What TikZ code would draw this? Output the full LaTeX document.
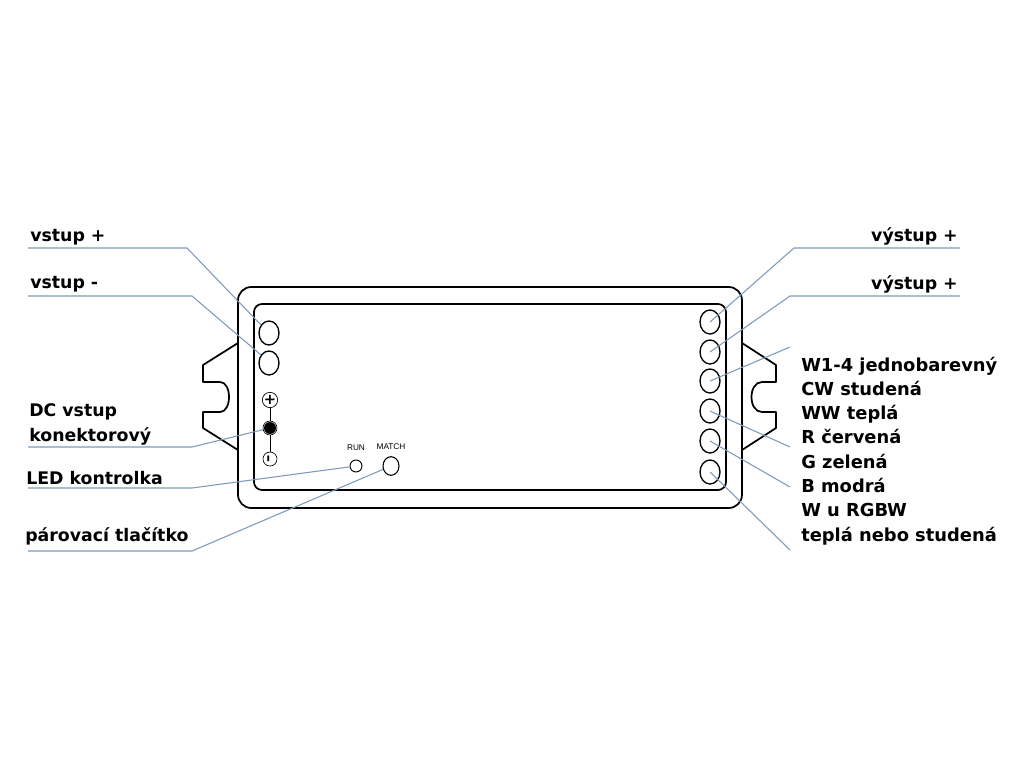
\documentclass[tikz,border=0pt]{standalone}
\usepackage{fontspec}
\setmainfont{DejaVu Sans}
\newfontfamily\tagfont{Liberation Sans}
\usetikzlibrary{positioning}
\usetikzlibrary{shapes.geometric}
\definecolor{leadercol}{HTML}{7F9BBB}
\begin{document}
\begin{tikzpicture}[
		x=0.75pt, y=-0.75pt,
		body/.style={draw, line width=1.3pt, inner sep=0},
		clip/.style={draw, line width=1.3pt, line join=round},
		port/.style={ellipse, draw, line width=1pt, inner sep=0, minimum width=15pt, minimum height=18pt},
		jack/.style={circle, draw, line width=0.5pt, inner sep=0, minimum size=10.5pt, font=\bfseries\fontsize{11}{11}\selectfont},
		leader/.style={draw=leadercol, line width=0.8pt},
		label/.style={inner sep=0, anchor=base west, align=left, font=\bfseries\fontsize{13}{18.2}\selectfont},
		tag/.style={inner sep=0, font=\tagfont\fontsize{6.2}{7}\selectfont},
	]
	\useasboundingbox (0,0) rectangle (1024,768);
	\fill[white] (0,0) rectangle (1024,768);

	\node (outer) [body, rounded corners=10pt, minimum width=378pt, minimum height=165.75pt] at (490,397.5) {};
	\node (inner) [body, rounded corners=6pt, minimum width=354pt, minimum height=139.5pt] at (490,397) {};

	\draw[clip] (238,343) -- (203,365) -- (203,382) -- (220,382) .. controls (232,382) and (232,412) .. (220,412) -- (203,412) -- (203,428) -- (238,450);
	\draw[clip] (742,343) -- (776,365) -- (776,382) -- (762,382) .. controls (748,382) and (748,412) .. (762,412) -- (776,412) -- (776,428) -- (742,450);

	\node (inA) [port] at (269,333) {};
	\node (inB) [port] at (269,363) {};
	\node (outA) [port] at (710,322) {};
	\node (outB) [port] at (710,352) {};
	\node (outC) [port] at (710,381) {};
	\node (outD) [port] at (710,411) {};
	\node (outE) [port] at (710,441) {};
	\node (outF) [port] at (710,472) {};

	\node (plus) [jack] at (270,400) {+};
	\node (dc) [jack] at (270,428) {};
	\fill (dc) circle (6);
	\node (minus) [jack, rotate=90] at (270,459) {--};
	\draw[line width=0.5pt] (plus) -- (dc);
	\draw[line width=0.5pt] (dc) -- (minus);

	\node (run) [circle, draw, line width=0.7pt, inner sep=0, minimum size=9pt] at (356,466) {};
	\node (match) [ellipse, draw, line width=0.8pt, inner sep=0, minimum width=12pt, minimum height=14pt] at (391,466) {};
	\node (runtag) [tag, above=6.5pt of run] {RUN};
	\node (matchtag) [tag, above=5pt of match] {MATCH};

	\node (vstupA) [label] at (30,241) {vstup +};
	\node (vstupB) [label] at (30,288) {vstup -};
	\node (dcin) [label] at (29,441) {DC vstup\\konektorový};
	\node (led) [label] at (26,484) {LED kontrolka};
	\node (pair) [label] at (25,541) {párovací tlačítko};
	\node (vystupA) [label, anchor=base east] at (958,241) {výstup +};
	\node (vystupB) [label, anchor=base east] at (958,289) {výstup +};
	\node (colors) [label, font=\bfseries\fontsize{13.4}{18.2}\selectfont] at (801,541) {W1-4 jednobarevný\\CW studená\\WW teplá\\R červená\\G zelená\\B modrá\\W u RGBW\\teplá nebo studená};

	\coordinate (a0) at (28,248);
	\coordinate (a1) at (187,248);
	\coordinate (b0) at (28,296);
	\coordinate (b1) at (192,296);
	\coordinate (c0) at (28,447);
	\coordinate (c1) at (192,447);
	\coordinate (d0) at (28,488);
	\coordinate (d1) at (192,488);
	\coordinate (e0) at (28,551);
	\coordinate (e1) at (192,551);
	\coordinate (f0) at (960,248);
	\coordinate (f1) at (794,248);
	\coordinate (g0) at (960,296);
	\coordinate (g1) at (790,296);
	\coordinate (h1) at (790,347);
	\coordinate (i1) at (790,447);
	\coordinate (j1) at (790,487);
	\coordinate (k1) at (790,550);

	\draw[leader] (a0) -- (a1) -- (inA.135);
	\draw[leader] (b0) -- (b1) -- (inB.135);
	\draw[leader] (c0) -- (c1) -- (dc);
	\draw[leader] (d0) -- (d1) -- (run);
	\draw[leader] (e0) -- (e1) -- (match);
	\draw[leader] (f0) -- (f1) -- (outA.center);
	\draw[leader] (g0) -- (g1) -- (outB.center);
	\draw[leader] (h1) -- (outC.center);
	\draw[leader] (i1) -- (outD.center);
	\draw[leader] (j1) -- (outE.center);
	\draw[leader] (k1) -- (outF.center);
\end{tikzpicture}
\end{document}
